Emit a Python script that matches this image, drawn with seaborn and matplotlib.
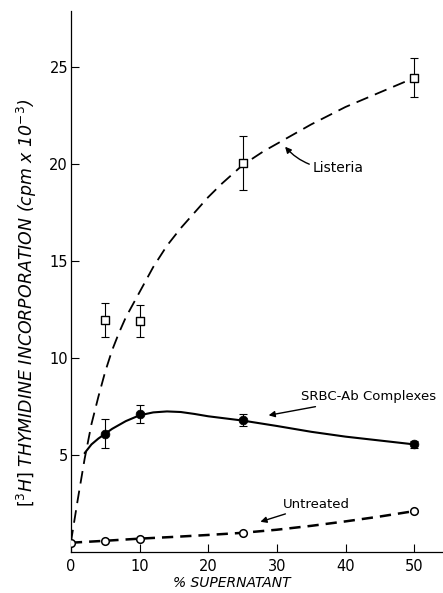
import numpy as np
import pandas as pd
import matplotlib
matplotlib.use("Agg")
import matplotlib.pyplot as plt
import seaborn as sns

# measured points (mean +/- error)
listeria_x = [5, 10, 25, 50]
listeria_y = [11.95, 11.9, 20.05, 24.45]
listeria_err = [0.87, 0.83, 1.4, 1.0]

srbc_x = [5, 10, 25, 50]
srbc_y = [6.1, 7.1, 6.8, 5.55]
srbc_err = [0.75, 0.46, 0.3, 0.2]

untreated_x = [0, 5, 10, 25, 50]
untreated_y = [0.48, 0.58, 0.69, 0.99, 2.11]

# hand-drawn fitted curves
listeria_curve_x = [0, 0.5, 1, 2, 3, 4, 5, 6, 7, 8, 10, 12, 14, 16, 18, 20, 22, 25, 28, 31,
                    35, 40, 45, 50]
listeria_curve_y = [0.5, 1.6, 2.7, 4.8, 6.6, 8.0, 9.3, 10.4, 11.3, 12.1, 13.4, 14.7, 15.8,
                    16.7, 17.5, 18.3, 19.0, 19.95, 20.65, 21.25, 22.05, 22.95, 23.7, 24.45]
srbc_curve_x = [2, 3, 4, 5, 6, 8, 10, 12, 14, 16, 18, 20, 25, 30, 35, 40, 45, 50]
srbc_curve_y = [5.1, 5.55, 5.85, 6.1, 6.35, 6.75, 7.05, 7.2, 7.25, 7.22, 7.12, 7.0, 6.78, 6.5,
                6.2, 5.95, 5.75, 5.55]
untreated_curve_x = [0, 5, 10, 15, 20, 25, 30, 35, 40, 45, 50]
untreated_curve_y = [0.48, 0.58, 0.69, 0.78, 0.88, 0.99, 1.15, 1.35, 1.58, 1.83, 2.11]

x_ticks = [0, 10, 20, 30, 40, 50]
y_ticks = [5, 10, 15, 20, 25]

sns.set_style("ticks")
plt.rcParams['font.family'] = ['DejaVu Sans']
plt.rcParams.update({'text.color': 'black', 'axes.labelcolor': 'black',
                     'xtick.color': 'black', 'ytick.color': 'black',
                     'axes.edgecolor': 'black'})

fig = plt.figure(figsize=(4.43, 5.93), dpi=100)
ax = fig.add_axes([0.160, 0.0691, 0.840, 0.9124])

# curves
sns.lineplot(x=listeria_curve_x, y=listeria_curve_y, ax=ax, color='black', lw=1.3,
             estimator=None, sort=False).lines[-1].set_dashes((7, 4))
sns.lineplot(x=srbc_curve_x, y=srbc_curve_y, ax=ax, color='black', lw=1.5,
             estimator=None, sort=False)
sns.lineplot(x=untreated_curve_x, y=untreated_curve_y, ax=ax, color='black', lw=1.8,
             estimator=None, sort=False).lines[-1].set_dashes((4.5, 2.8))

# error bars and markers
ax.errorbar(listeria_x, listeria_y, yerr=listeria_err, fmt='none', ecolor='black',
            elinewidth=0.8, capsize=3, capthick=0.8, zorder=3)
ax.errorbar(srbc_x, srbc_y, yerr=srbc_err, fmt='none', ecolor='black',
            elinewidth=0.8, capsize=3, capthick=0.8, zorder=3)
sns.scatterplot(x=listeria_x, y=listeria_y, ax=ax, marker='s', s=26, facecolor='white',
                edgecolor='black', linewidth=1.0, zorder=4)
sns.scatterplot(x=srbc_x, y=srbc_y, ax=ax, marker='o', s=40, color='black',
                edgecolor='black', zorder=4)
sns.scatterplot(x=untreated_x, y=untreated_y, ax=ax, marker='o', s=30, facecolor='white',
                edgecolor='black', linewidth=1.1, zorder=4)

# annotations
arrow = dict(arrowstyle='-|>', color='black', lw=1.0, mutation_scale=9, shrinkA=0, shrinkB=0)
ax.annotate('Listeria', xy=(31.2, 20.9), xytext=(35.2, 19.8), fontsize=10,
            va='center', ha='left',
            arrowprops=dict(arrow, connectionstyle='arc3,rad=-0.25'))
ax.annotate('SRBC-Ab Complexes', xy=(28.8, 7.05), xytext=(33.5, 8.0), fontsize=9.5,
            va='center', ha='left', arrowprops=arrow)
ax.annotate('Untreated', xy=(27.6, 1.56), xytext=(30.9, 2.47), fontsize=9.5,
            va='center', ha='left', arrowprops=arrow)

ax.set_xlim(0, 54.2)
ax.set_ylim(0, 27.9)
ax.set_xticks(x_ticks)
ax.set_yticks(y_ticks)
ax.tick_params(axis='both', direction='in', length=6, width=0.8, labelsize=10.5)
ax.tick_params(axis='x', pad=5)
ax.tick_params(axis='y', pad=2)
for s in ['top', 'right']:
    ax.spines[s].set_visible(False)
for s in ['left', 'bottom']:
    ax.spines[s].set_linewidth(0.9)

ax.set_xlabel('% SUPERNATANT', fontsize=10, style='italic')
ax.xaxis.set_label_coords(0.433, -0.044)
ax.set_ylabel(r'$\left[^{3}H\right]$ THYMIDINE INCORPORATION (cpm x 10$^{-3}$)',
              fontsize=12.5, style='italic')
ax.yaxis.set_label_coords(-0.085, 0.46)

fig.savefig('out.png', dpi=100)
